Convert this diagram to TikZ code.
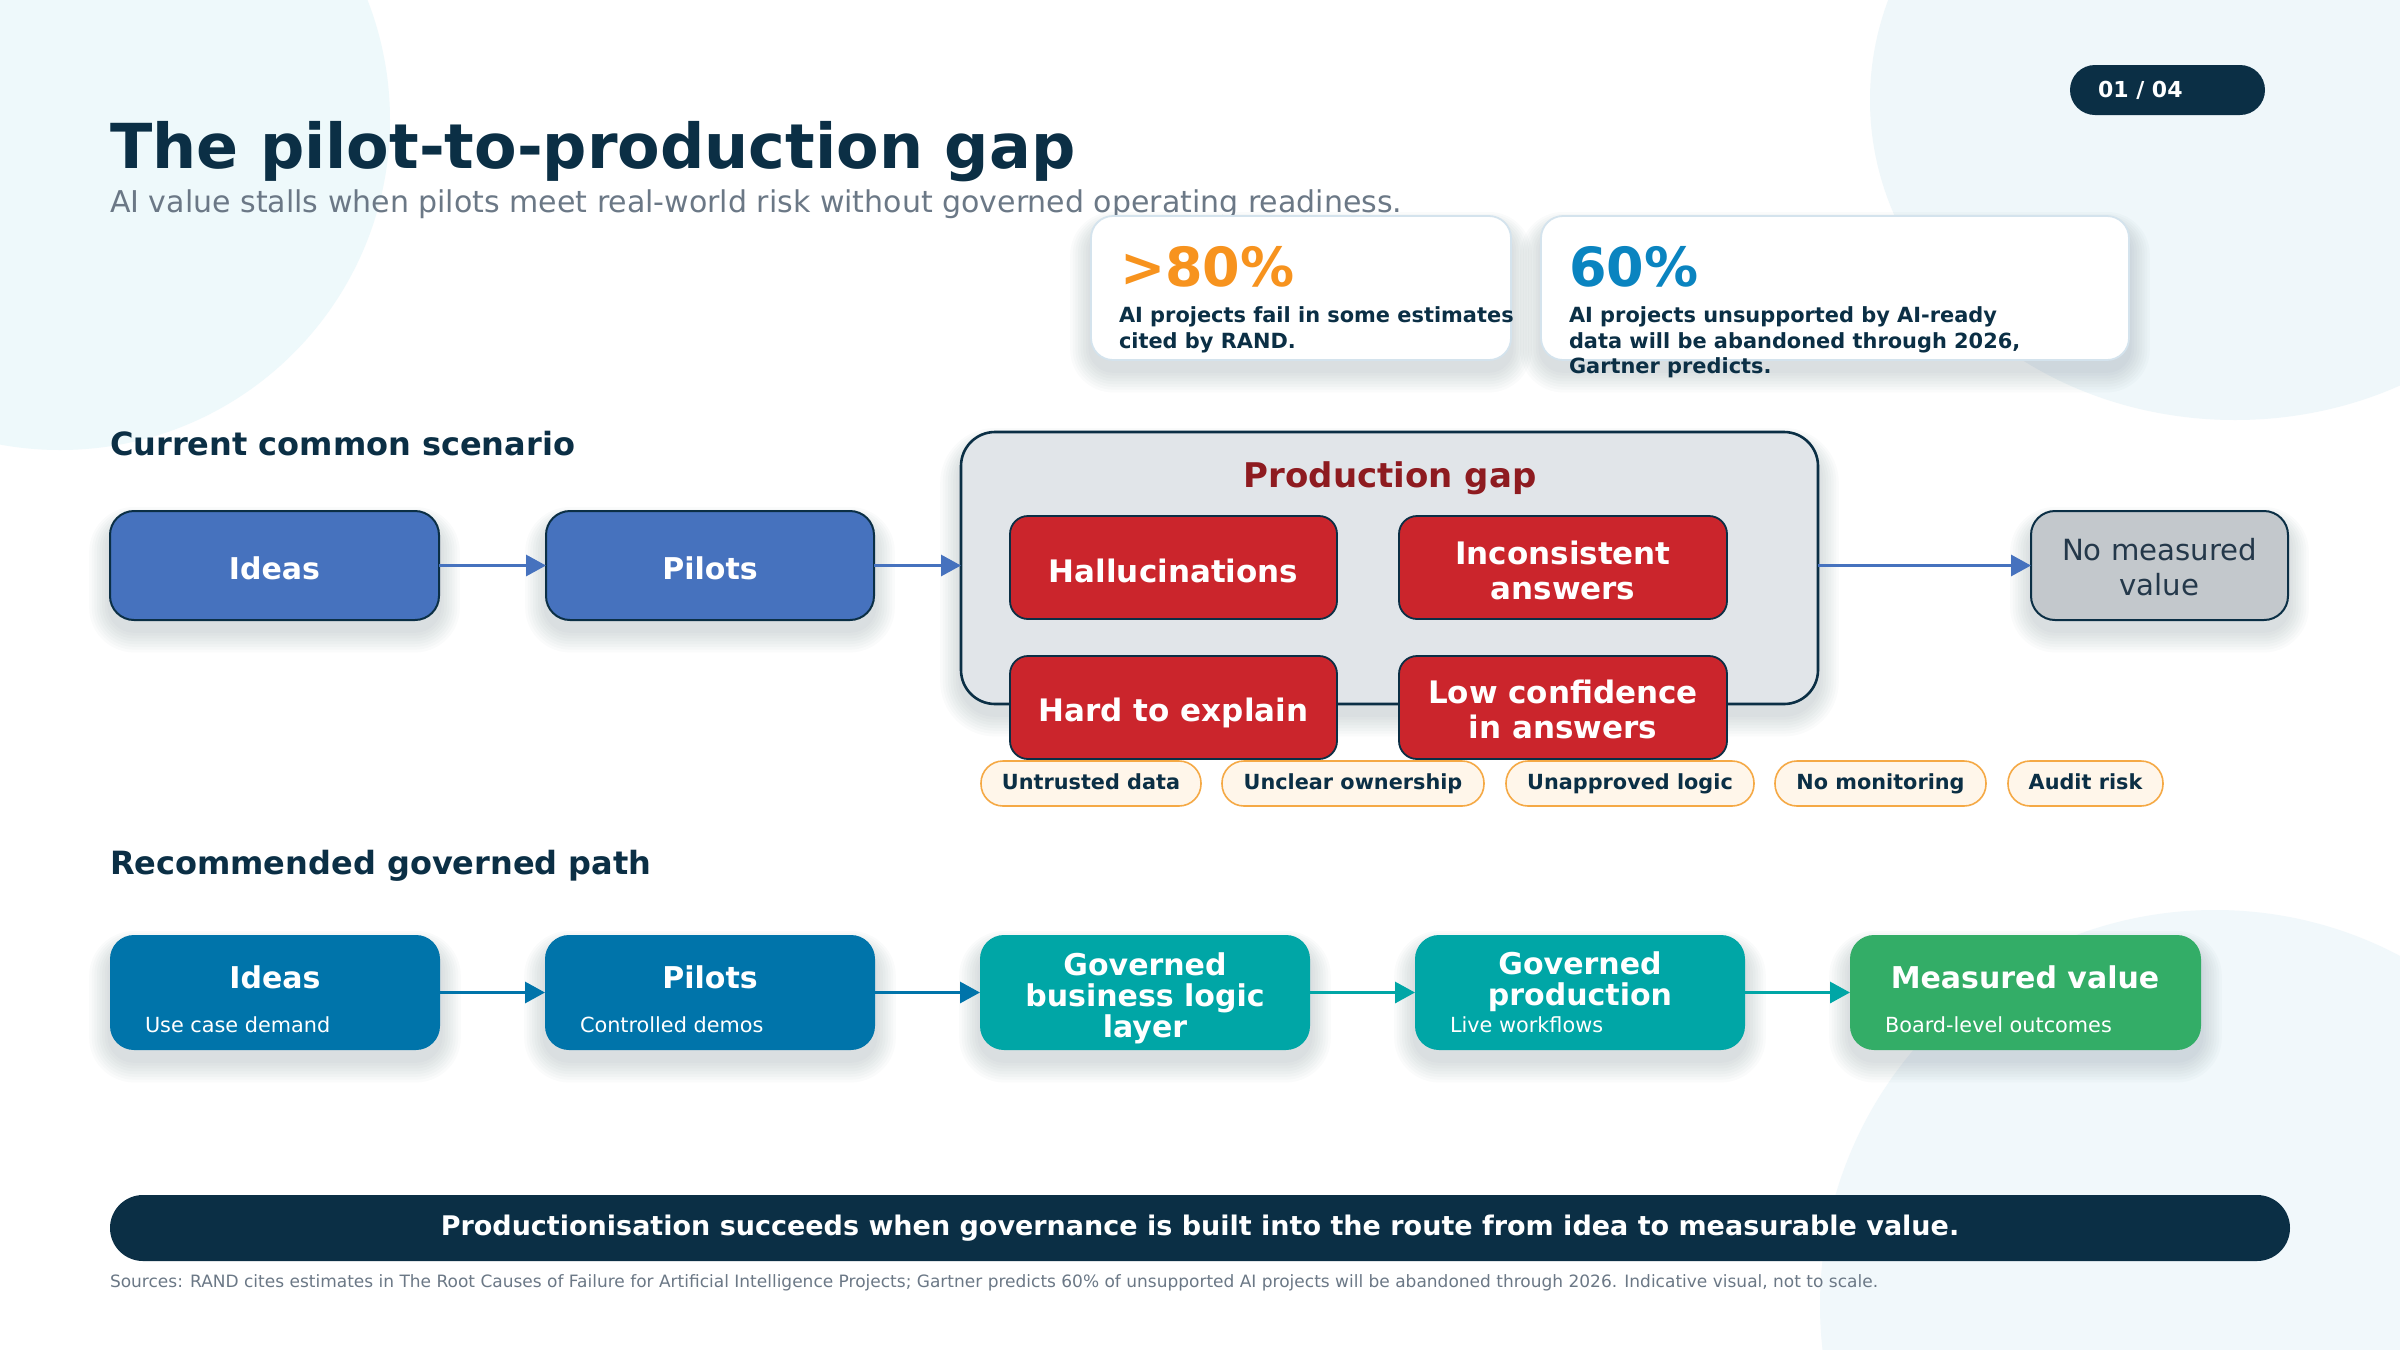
\documentclass[tikz,border=0pt]{standalone}
\usepackage{fontspec}
\setmainfont{DejaVu Sans}
\usetikzlibrary{arrows.meta}
\definecolor{navy}{HTML}{0B2F45}
\definecolor{subgray}{HTML}{6B7886}
\definecolor{orangec}{HTML}{F7931E}
\definecolor{statblue}{HTML}{0A84C0}
\definecolor{blueone}{HTML}{4672BE}
\definecolor{gapfill}{HTML}{E1E5E9}
\definecolor{redc}{HTML}{CB252C}
\definecolor{darkred}{HTML}{8E1B20}
\definecolor{grayfill}{HTML}{C3C8CC}
\definecolor{graytext}{HTML}{24384A}
\definecolor{chipfill}{HTML}{FFF6EA}
\definecolor{chipline}{HTML}{F5A945}
\definecolor{bluetwo}{HTML}{0074AA}
\definecolor{tealc}{HTML}{00A6A6}
\definecolor{greenc}{HTML}{33AD67}
\definecolor{cardline}{HTML}{D4E3ED}
\definecolor{blobA}{HTML}{EEF9FB}
\definecolor{blobB}{HTML}{EFF7FA}
\definecolor{blobC}{HTML}{F1F8FB}
\definecolor{shadowc}{HTML}{1E3A50}
\pgfdeclarelayer{bglayer}
\pgfdeclarelayer{shadowlayer}
\pgfsetlayers{bglayer,shadowlayer,main}
\newcommand\softshadow[2]{%
  \begin{pgfonlayer}{shadowlayer}
  \foreach \k in {1,...,8}{%
    \fill[shadowc, opacity=0.018, rounded corners={#2+\k*1.3pt}]
      ([xshift=-\k*1.3pt, yshift=-6pt+\k*1.0pt]#1.north west) rectangle
      ([xshift=\k*1.3pt, yshift=-5pt-\k*1.4pt]#1.south east);
  }%
  \end{pgfonlayer}}
\tikzset{
  every node/.style={inner sep=0pt, outer sep=0pt},
  sz/.style 2 args={minimum width=#1*0.5pt, minimum height=#2*0.5pt},
  pill/.style={rectangle, rounded corners=12.5pt, fill=navy},
  card/.style={rectangle, rounded corners=11pt, fill=white, draw=cardline, line width=0.9pt},
  bxone/.style={rectangle, rounded corners=12pt, fill=blueone, draw=navy, line width=1pt},
  txone/.style={anchor=base, text=white, font=\fontsize{15}{17.5}\selectfont\bfseries},
  gapbox/.style={rectangle, rounded corners=17pt, fill=gapfill, draw=navy, line width=1.3pt},
  redbox/.style={rectangle, rounded corners=9pt, fill=redc, draw=navy, line width=0.9pt},
  redtx/.style={text=white, align=center, font=\fontsize{15.5}{17.5}\selectfont\bfseries},
  graybox/.style={rectangle, rounded corners=12pt, fill=grayfill, draw=navy, line width=1pt},
  graytx/.style={anchor=north, text=graytext, align=center, font=\fontsize{14.6}{17.5}\selectfont},
  chip/.style={rectangle, rounded corners=11pt, fill=chipfill, draw=chipline, line width=0.8pt, text=navy, font=\fontsize{10.4}{12}\selectfont\bfseries, text height=7.6pt, text depth=2.1pt},
  bxtwo/.style={rectangle, rounded corners=12pt},
  ttwo/.style={text=white, font=\fontsize{15}{15.5}\selectfont\bfseries, align=center},
  stwo/.style={anchor=base west, text=white, font=\fontsize{10.4}{12}\selectfont},
  heading/.style={anchor=base west, text=navy, font=\fontsize{16}{18}\selectfont\bfseries},
  stattx/.style={anchor=north west, align=left, text=navy, font=\fontsize{10.45}{12.6}\selectfont\bfseries},
  arr/.style={-{Triangle[length=10pt,width=10.5pt]}, line width=1.6pt},
}
\begin{document}
\begin{tikzpicture}[x=0.5pt,y=-0.5pt]
\begin{pgfonlayer}{bglayer}
\fill[white] (0,0) rectangle (2400,1350);
\begin{scope}
\clip (0,0) rectangle (2400,1350);
\fill[blobA] (60,120) circle[radius=330];
\fill[blobB] (2235,100) ellipse[x radius=365, y radius=320];
\fill[blobC] (2215,1305) circle[radius=395];
\end{scope}
\end{pgfonlayer}
\useasboundingbox (0,0) rectangle (2400,1350);

% page pill
\node[pill, sz={195}{50}] (pill) at (2167.5,90) {};
\node[anchor=base west, text=white, font=\fontsize{11}{12}\selectfont\bfseries] (pilltxt) at (2098,97) {01 / 04};

% title
\node[anchor=base west, text=navy, font=\fontsize{31}{36}\selectfont\bfseries] (title) at (110,168) {The pilot-to-production gap};
\node[anchor=base west, text=subgray, font=\fontsize{15}{17}\selectfont] (subtitle) at (110,212) {AI value stalls when pilots meet real-world risk without governed operating readiness.};

% stat cards
\node[card, sz={420}{144}] (card1) at (1301,288) {};
\node[card, sz={588}{144}] (card2) at (1835,288) {};
\softshadow{card1}{11pt}
\softshadow{card2}{11pt}
\node[anchor=base west, text=orangec, font=\fontsize{27}{30}\selectfont\bfseries] (stat1) at (1120,286) {>80\%};
\node[stattx] (stat1txt) at (1119,307) {AI projects fail in some estimates\\cited by RAND.};
\node[anchor=base west, text=statblue, font=\fontsize{27}{30}\selectfont\bfseries] (stat2) at (1569,286) {60\%};
\node[stattx] (stat2txt) at (1569,307) {AI projects unsupported by AI-ready\\data will be abandoned through 2026,\\Gartner predicts.};

% current scenario
\node[heading] (head1) at (110,455) {Current common scenario};
\node[bxone, sz={329}{109}] (ideas1) at (274.5,565.5) {};
\node[bxone, sz={328}{109}] (pilots1) at (710,565.5) {};
\node[txone] (ideas1t) at (274.5,579) {Ideas};
\node[txone] (pilots1t) at (710,579) {Pilots};
\node[gapbox, sz={857}{272}] (gap) at (1389.5,568) {};
\node[anchor=base, text=darkred, font=\fontsize{17}{19}\selectfont\bfseries] (gaptitle) at (1390,487) {Production gap};
\node[redbox, sz={327}{103}] (hall) at (1173.5,567.5) {};
\node[redbox, sz={328}{103}] (incons) at (1563,567.5) {};
\node[redbox, sz={327}{103}] (hard) at (1173.5,707.5) {};
\node[redbox, sz={328}{103}] (lowconf) at (1563,707.5) {};
\node[redtx, anchor=base] (hallt) at (1173.5,582) {Hallucinations};
\node[redtx, anchor=north] (inconst) at (1563,540.5) {Inconsistent\\answers};
\node[redtx, anchor=base] (hardt) at (1173.5,721) {Hard to explain};
\node[redtx, anchor=north] (lowconft) at (1563,680) {Low confidence\\in answers};
\node[graybox, sz={257}{109}] (nomeas) at (2159.5,565.5) {};
\node[graytx] (nomeast) at (2159.5,538) {No measured\\value};
\softshadow{ideas1}{12pt}
\softshadow{pilots1}{12pt}
\softshadow{gap}{17pt}
\softshadow{nomeas}{12pt}
\draw[arr, blueone] (ideas1) -- (pilots1);
\draw[arr, blueone] (pilots1.east) -- (pilots1.east -| gap.west);
\draw[arr, blueone] (gap.east |- nomeas.west) -- (nomeas.west);

% chips
\node[chip, sz={220}{45}] (chip1) at (1091,783.5) {Untrusted data};
\node[chip, sz={262}{45}] (chip2) at (1353,783.5) {Unclear ownership};
\node[chip, sz={248}{45}] (chip3) at (1630,783.5) {Unapproved logic};
\node[chip, sz={211}{45}] (chip4) at (1880.5,783.5) {No monitoring};
\node[chip, sz={155}{45}] (chip5) at (2085.5,783.5) {Audit risk};

% recommended path
\node[heading] (head2) at (110,874) {Recommended governed path};
\node[bxtwo, fill=bluetwo, sz={330}{115}] (ideas2) at (275,992.5) {};
\node[bxtwo, fill=bluetwo, sz={330}{115}] (pilots2) at (710,992.5) {};
\node[bxtwo, fill=tealc, sz={330}{115}] (gov1) at (1145,992.5) {};
\node[bxtwo, fill=tealc, sz={330}{115}] (gov2) at (1580,992.5) {};
\node[bxtwo, fill=greenc, sz={351}{115}] (meas) at (2025.5,992.5) {};
\softshadow{ideas2}{12pt}
\softshadow{pilots2}{12pt}
\softshadow{gov1}{12pt}
\softshadow{gov2}{12pt}
\softshadow{meas}{12pt}
\node[ttwo, anchor=base] (ideas2t) at (275,988) {Ideas};
\node[stwo] (ideas2s) at (145,1032) {Use case demand};
\node[ttwo, anchor=base] (pilots2t) at (710,988) {Pilots};
\node[stwo] (pilots2s) at (580,1032) {Controlled demos};
\node[ttwo] (gov1t) at (1145,998) {Governed\\business logic\\layer};
\node[ttwo] (gov2t) at (1580,982) {Governed\\production};
\node[stwo] (gov2s) at (1450,1032) {Live workflows};
\node[ttwo, anchor=base] (meast) at (2025,988) {Measured value};
\node[stwo] (meass) at (1885,1032) {Board-level outcomes};
\draw[arr, bluetwo] (ideas2) -- (pilots2);
\draw[arr, bluetwo] (pilots2) -- (gov1);
\draw[arr, tealc] (gov1) -- (gov2);
\draw[arr, tealc] (gov2) -- (meas);

% banner
\node[rectangle, rounded corners=16.5pt, fill=navy, sz={2180}{66}, text=white, font=\fontsize{13.5}{15}\selectfont\bfseries, text height=9.3pt, text depth=2pt] (banner) at (1200,1228) {Productionisation succeeds when governance is built into the route from idea to measurable value.};
\node[anchor=base west, text=subgray, font=\fontsize{8.5}{10}\selectfont] (sources) at (110,1287) {Sources: RAND cites estimates in The Root Causes of Failure for Artificial Intelligence Projects; Gartner predicts 60\% of unsupported AI projects will be abandoned through 2026. Indicative visual, not to scale.};
\end{tikzpicture}
\end{document}
